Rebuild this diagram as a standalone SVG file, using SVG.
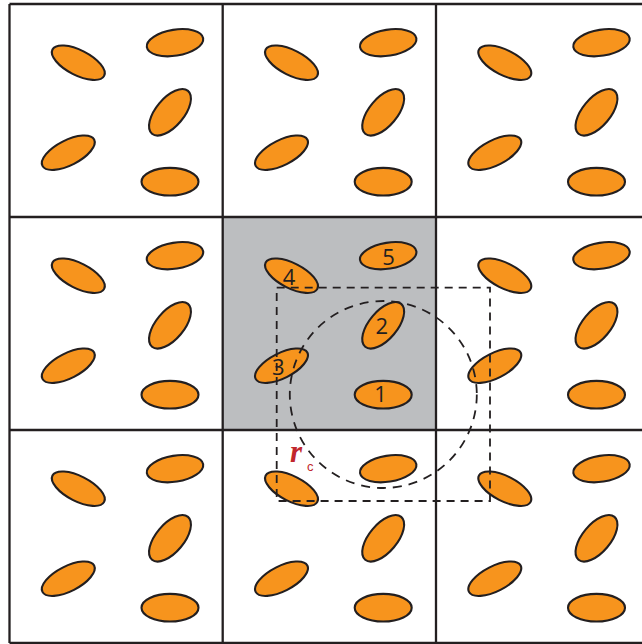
<svg xmlns="http://www.w3.org/2000/svg" xmlns:xlink="http://www.w3.org/1999/xlink" width="642" height="644" viewBox="0 0 642 644">
<style>
.p{fill:#f7941d;stroke:#231f20;stroke-width:2.1}
.grid{stroke:#231f20;stroke-width:2.3;fill:none}
.dash{fill:none;stroke:#231f20;stroke-width:1.8}
.num{font-family:"Open Sans","Liberation Sans",sans-serif;font-size:22px;fill:#231f20;text-anchor:middle}
</style>
<defs>
<g id="particles">
<ellipse class="p" cx="0" cy="0" rx="29" ry="12.5" transform="translate(68.8 58.7) rotate(27)"/>
<ellipse class="p" cx="0" cy="0" rx="28.5" ry="13" transform="translate(165.5 38.7) rotate(-9)"/>
<ellipse class="p" cx="0" cy="0" rx="28" ry="14" transform="translate(160.5 108.3) rotate(-50)"/>
<ellipse class="p" cx="0" cy="0" rx="29" ry="12.5" transform="translate(58.8 148.7) rotate(-27)"/>
<ellipse class="p" cx="0" cy="0" rx="28.5" ry="13.8" transform="translate(160.5 177.7)"/>
</g>
</defs>
<rect width="642" height="644" fill="#ffffff"/>
<rect id="central-cell-bg" x="222.7" y="217" width="213.3" height="213" fill="#bcbec0"/>
<g id="cell-0-0"><use xlink:href="#particles" href="#particles" transform="translate(9.5 4)"/></g>
<g id="cell-1-0"><use xlink:href="#particles" href="#particles" transform="translate(222.7 4)"/></g>
<g id="cell-2-0"><use xlink:href="#particles" href="#particles" transform="translate(436 4)"/></g>
<g id="cell-0-1"><use xlink:href="#particles" href="#particles" transform="translate(9.5 217)"/></g>
<g id="cell-1-1"><use xlink:href="#particles" href="#particles" transform="translate(222.7 217)"/></g>
<g id="cell-2-1"><use xlink:href="#particles" href="#particles" transform="translate(436 217)"/></g>
<g id="cell-0-2"><use xlink:href="#particles" href="#particles" transform="translate(9.5 430)"/></g>
<g id="cell-1-2"><use xlink:href="#particles" href="#particles" transform="translate(222.7 430)"/></g>
<g id="cell-2-2"><use xlink:href="#particles" href="#particles" transform="translate(436 430)"/></g>
<g id="grid" class="grid">
<line x1="9.5" y1="4" x2="9.5" y2="643"/>
<line x1="222.7" y1="4" x2="222.7" y2="643"/>
<line x1="436" y1="4" x2="436" y2="643"/>
<line x1="9.5" y1="4" x2="642" y2="4"/>
<line x1="9.5" y1="217" x2="642" y2="217"/>
<line x1="9.5" y1="430" x2="642" y2="430"/>
<line x1="9.5" y1="643" x2="642" y2="643"/>
</g>
<g id="connectors">
<rect class="dash" x="276.7" y="287.7" width="213.3" height="213.3" stroke-dasharray="8 6"/>
<circle class="dash" cx="383.3" cy="394.5" r="93.5" stroke-dasharray="9 7"/>
</g>
<g id="labels">
<text class="num" x="388.5" y="265">5</text>
<text class="num" x="381.7" y="334.3">2</text>
<text class="num" x="380.5" y="402">1</text>
<text class="num" x="289" y="285">4</text>
<text class="num" x="278.3" y="375">3</text>
<text x="290" y="462" font-family="Liberation Serif,serif" font-style="italic" font-weight="bold" font-size="31" fill="#c1272d">r</text>
<text x="307" y="471" font-family="Liberation Sans,sans-serif" font-size="13" fill="#c1272d">c</text>
</g>
</svg>
